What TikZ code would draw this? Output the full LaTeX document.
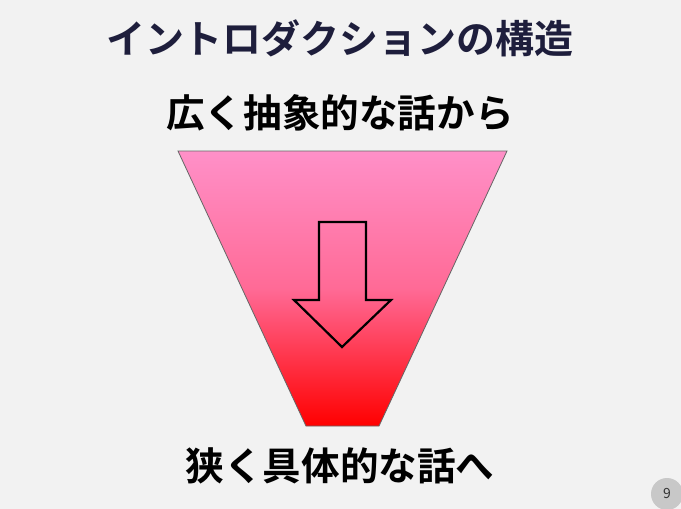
\documentclass[tikz,border=0pt]{standalone}
\usepackage{fontspec}
\newfontfamily\jpb{Noto Sans CJK JP Bold}
\newfontfamily\jpr{Noto Sans CJK JP}
\definecolor{bg}{HTML}{F2F2F2}
\definecolor{titlecol}{HTML}{1E1E3C}
\definecolor{pinktop}{HTML}{FF90C8}
\definecolor{pinkmid}{HTML}{FF6A96}
\definecolor{redbot}{HTML}{FF0000}
\definecolor{pagecirc}{HTML}{C8C8C8}
\tikzset{
  titletext/.style={font=\jpb\fontsize{39}{42}\selectfont, text=titlecol, inner sep=0pt},
  bodytext/.style={font=\jpb\fontsize{38.6}{42}\selectfont, text=black, inner sep=0pt},
  funnel/.style={draw=black!60, line width=0.8pt, top color=pinktop, bottom color=redbot, middle color=pinkmid},
  bigarrow/.style={draw=black, line width=2.2pt, fill=none, line join=miter},
  pagenum/.style={circle, fill=pagecirc, minimum size=32pt, inner sep=0pt, font=\jpr\fontsize{14}{14}\selectfont, text=black!80}
}
\begin{document}
\begin{tikzpicture}[x=1pt,y=-1pt]
\useasboundingbox (0,0) rectangle (681,509);
\fill[bg] (0,0) rectangle (681,509);
\node[titletext] (title) at (340,38) {イントロダクションの構造};
\node[bodytext] (top) at (340,113) {広く抽象的な話から};
\node[bodytext] (bottom) at (340,466) {狭く具体的な話へ};
\path[funnel] (178,151) -- (507,151) -- (379,426) -- (306,426) -- cycle;
\draw[bigarrow] (319,222) -- (366,222) -- (366,300) -- (391,300) -- (342,347) -- (294,300) -- (319,300) -- cycle;
\node[pagenum] (pg) at (667,494) {9};
\end{tikzpicture}
\end{document}
